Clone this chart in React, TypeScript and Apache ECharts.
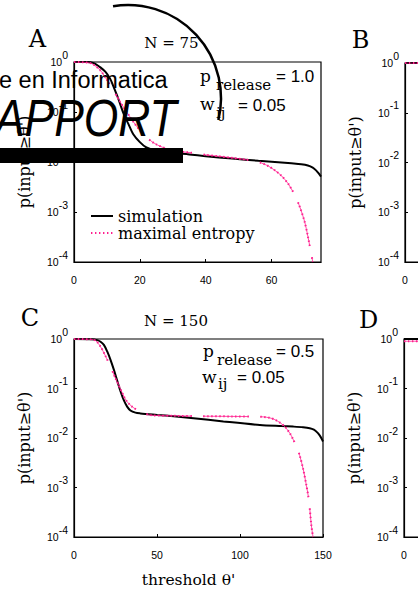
import React, { useEffect, useRef } from 'react';
import * as echarts from 'echarts';

// ---------- data ----------
const panelLetters = ['A', 'B', 'C', 'D'];
const panelTitles = ['N = 75', 'N = 150'];
const legendNames = ['simulation', 'maximal entropy'];
const yAxisTitle = "p(input\u2265\u03b8')";
const xAxisTitle = "threshold \u03b8'";

// panel A (N = 75): [threshold, p]
const simA: [number, number][] = [
  [0, 1], [4, 0.995], [6, 0.95], [7, 0.87], [8, 0.78], [9.5, 0.64], [11, 0.46], [12, 0.32],
  [13.5, 0.18], [15, 0.095], [16.5, 0.058], [18, 0.036], [20, 0.025], [22, 0.0195], [25, 0.0168],
  [30, 0.0152], [35, 0.0142], [40, 0.0131], [48, 0.0117], [56, 0.0106], [62, 0.0099], [66, 0.0094],
  [69, 0.009], [71, 0.0085], [72.5, 0.0077], [73.5, 0.0068], [74.3, 0.0059], [75, 0.0051],
];
const entA: [number, number][] = [
  [0, 1], [3, 0.99], [5, 0.95], [6, 0.88], [8, 0.68], [10, 0.44], [12, 0.27], [14, 0.16], [16, 0.1],
  [18, 0.064], [20, 0.043], [22, 0.031], [25, 0.0225], [29, 0.0176], [33, 0.016], [36, 0.0152],
  [40, 0.0139], [44, 0.013], [48, 0.0121], [52, 0.0112], [55, 0.0104], [57, 0.0095], [59, 0.0083],
  [61, 0.0068], [63, 0.0053], [65, 0.0037], [67, 0.0022], [68.5, 0.0013], [70, 0.00065],
  [71, 0.00033], [72, 0.00015], [72.5, 0.0001],
];
// panel C (N = 150)
const simC: [number, number][] = [
  [0, 1], [10, 0.99], [14, 0.95], [16, 0.88], [18, 0.76], [20, 0.56], [22, 0.38], [24, 0.24],
  [26, 0.145], [28, 0.088], [30, 0.058], [32, 0.043], [34, 0.036], [37, 0.0325], [40, 0.0314],
  [50, 0.0293], [60, 0.0274], [72, 0.0251], [90, 0.0216], [112, 0.0183], [125, 0.0174],
  [132, 0.017], [138, 0.0165], [142, 0.0158], [144.5, 0.0147], [146.5, 0.013], [148, 0.0113],
  [149.2, 0.0097], [150, 0.0085],
];
const entC: [number, number][] = [
  [0, 1], [10, 0.985], [13, 0.93], [16, 0.7], [19, 0.45], [22, 0.275], [25, 0.16], [27, 0.115],
  [30, 0.07], [32, 0.054], [35, 0.043], [38, 0.037], [42, 0.032], [46, 0.029], [60, 0.0281],
  [76, 0.0276], [95, 0.0273], [109, 0.027], [114, 0.0267], [118, 0.0255], [121, 0.0235],
  [124, 0.0205], [127, 0.017], [130, 0.0125], [132, 0.0094], [134, 0.0068], [136, 0.0044],
  [138, 0.0024], [140, 0.0011], [141.5, 0.00055], [143, 0.00017], [144, 0.0001],
];
// panels B and D (only the left edge is visible)
const simB: [number, number][] = [[0, 1], [10, 1], [20, 1]];
const entB: [number, number][] = [[0, 1], [10, 1], [20, 1]];
const simD: [number, number][] = [[0, 1], [20, 1], [40, 1]];
const entD: [number, number][] = [[0, 0.9], [20, 0.9], [40, 0.9]];

const xMaxTop = 75;
const xMaxBottom = 150;
const xIntervalTop = 20;
const xIntervalBottom = 50;

// ---------- style ----------
const PINK = '#ff1f8e';
const SERIF = '"DejaVu Serif", serif';
const SANS = '"Liberation Sans", Arial, sans-serif';

const dotPattern: number[] = [];
for (let i = 0; i < 11; i++) dotPattern.push(1.4, 2.6);
dotPattern.push(1.4, 11.6);

const grids = [
  { left: 74, top: 62, width: 247, height: 200 },
  { left: 405, top: 63, width: 247, height: 199 },
  { left: 74, top: 339, width: 249, height: 198 },
  { left: 404, top: 339, width: 249, height: 198 },
];

function xAxis(i: number) {
  const bottom = i >= 2;
  return {
    gridIndex: i,
    type: 'value',
    min: 0,
    max: bottom ? xMaxBottom : xMaxTop,
    interval: bottom ? xIntervalBottom : xIntervalTop,
    name: bottom ? xAxisTitle : '',
    nameLocation: 'middle',
    nameGap: 35,
    nameTextStyle: { fontFamily: SERIF, fontSize: 15.5, color: '#000', padding: [0, 20, 0, 0] },
    axisLine: { show: true, lineStyle: { color: '#000', width: 1.2 } },
    axisTick: { show: true, inside: true, length: 3, lineStyle: { color: '#000' } },
    splitLine: { show: false },
    axisLabel: {
      color: '#000', fontFamily: SANS, fontSize: 10.5, margin: 12,
      showMaxLabel: bottom,
    },
  };
}

function yAxis(i: number) {
  return {
    gridIndex: i,
    type: 'log',
    logBase: 10,
    min: 0.0001,
    max: 1,
    name: yAxisTitle,
    nameLocation: 'middle',
    nameGap: 42,
    nameTextStyle: { fontFamily: SERIF, fontSize: 16, color: '#000' },
    axisLine: { show: true, lineStyle: { color: '#000', width: 1.2 } },
    axisTick: { show: true, inside: true, length: 3, lineStyle: { color: '#000' } },
    splitLine: { show: false },
    minorTick: { show: false },
    axisLabel: {
      margin: 6,
      color: '#000',
      formatter: (v: number) => `{b|10}{e|${Math.round(Math.log10(v))}}`,
      rich: {
        b: { fontFamily: SANS, fontSize: 10.5, color: '#000', verticalAlign: 'middle' },
        e: { fontFamily: SANS, fontSize: 10.5, color: '#000', verticalAlign: 'middle', padding: [0, 0, 15, 0] },
      },
    },
  };
}

function simSeries(idx: number, data: [number, number][]) {
  return {
    type: 'line', name: 'simulation', xAxisIndex: idx, yAxisIndex: idx, data,
    smooth: 0.3, symbol: 'none', lineStyle: { color: '#000', width: 2 }, itemStyle: { color: '#000' },
  };
}
function entSeries(idx: number, data: [number, number][]) {
  return [
    {
      type: 'line', name: 'ent-line', xAxisIndex: idx, yAxisIndex: idx, data,
      smooth: 0.3, symbol: 'none', lineStyle: { color: PINK, width: 0.8, type: [45, 12] },
    },
    {
      type: 'line', name: 'maximal entropy', xAxisIndex: idx, yAxisIndex: idx, data,
      smooth: 0.3, symbol: 'none', lineStyle: { color: PINK, width: 2, type: dotPattern },
      itemStyle: { color: PINK },
    },
  ];
}

function txt(text: string, x: number, y: number, font: string, align = 'left') {
  return {
    type: 'text', x, y, z: 50,
    style: { text, font, fill: '#000', align, verticalAlign: 'middle' },
  };
}

export default function App() {
  const ref = useRef<HTMLDivElement>(null);
  useEffect(() => {
    if (!ref.current) return;
    const chart = echarts.init(ref.current, null, { renderer: 'svg' });
    const option: any = {
      animation: false,
      backgroundColor: '#fff',
      grid: grids.map((g) => ({
        ...g, show: true, borderColor: '#000', borderWidth: 1.2, backgroundColor: 'transparent',
        outerBoundsMode: 'none',
      })),
      xAxis: [0, 1, 2, 3].map(xAxis),
      yAxis: [0, 1, 2, 3].map(yAxis),
      legend: {
        data: legendNames,
        orient: 'vertical',
        left: 90,
        top: 208,
        itemWidth: 22,
        itemHeight: 14,
        itemGap: 1,
        padding: 0,
        selectedMode: false,
        itemStyle: { color: 'rgba(0,0,0,0)', borderColor: 'rgba(0,0,0,0)', borderWidth: 0 },
        textStyle: { fontFamily: SERIF, fontSize: 16, color: '#000', lineHeight: 14 },
      },
      series: [
        simSeries(0, simA), ...entSeries(0, entA),
        simSeries(1, simB), ...entSeries(1, entB),
        simSeries(2, simC), ...entSeries(2, entC),
        simSeries(3, simD), ...entSeries(3, entD),
      ],
      graphic: [
        // panel letters and titles
        txt(panelLetters[0], 37.5, 38.5, `24px ${SERIF}`, 'center'),
        txt(panelLetters[1], 360.5, 40, `24px ${SERIF}`, 'center'),
        txt(panelLetters[2], 30, 317.5, `24px ${SERIF}`, 'center'),
        txt(panelLetters[3], 368.5, 319.5, `24px ${SERIF}`, 'center'),
        txt(panelTitles[0], 171.5, 42.5, `15px ${SERIF}`, 'center'),
        txt(panelTitles[1], 176, 321, `15px ${SERIF}`, 'center'),
        // parameter annotations A
        txt('p', 200, 76, `17px ${SERIF}`),
        txt('release', 216, 84.8, `15px ${SERIF}`),
        txt('= 1.0', 276, 76, `17px ${SANS}`),
        txt('w', 200, 104, `17px ${SERIF}`),
        txt('ij', 216, 112.8, `15px ${SERIF}`),
        txt('= 0.05', 238, 105, `17px ${SANS}`),
        // parameter annotations C
        txt('p', 203, 351, `17px ${SERIF}`),
        txt('release', 217, 359.8, `15px ${SERIF}`),
        txt('= 0.5', 276, 351, `17px ${SANS}`),
        txt('w', 202, 377, `17px ${SERIF}`),
        txt('ij', 218, 383.8, `15px ${SERIF}`),
        txt('= 0.05', 237, 377, `17px ${SANS}`),
        // overlay (logo fragments)
        {
          type: 'text', x: -1, y: 79.5, z: 100,
          style: { text: 'e en Informatica', font: `23.5px ${SANS}`, fill: '#000', align: 'left', verticalAlign: 'middle' },
        },
        {
          type: 'text', x: -5, y: 118.5, scaleX: 0.87, z: 100,
          style: { text: 'APPORT', font: `italic 51px ${SANS}`, fill: '#000', align: 'left', verticalAlign: 'middle' },
        },
        { type: 'rect', z: 100, shape: { x: 0, y: 148, width: 183, height: 15 }, style: { fill: '#000' } },
        {
          type: 'arc', z: 100,
          shape: { cx: 128, cy: 98, r: 93, startAngle: -1.7325, endAngle: 0.2395, clockwise: true },
          style: { stroke: '#000', lineWidth: 2.5, fill: 'none' },
        },
      ],
    };
    chart.setOption(option);
    return () => chart.dispose();
  }, []);
  return (
    <div
      style={{
        position: 'absolute', left: 0, top: 0, width: 418, height: 591,
        overflow: 'hidden', background: '#fff',
      }}
    >
      <div ref={ref} style={{ position: 'absolute', left: 0, top: 0, width: 720, height: 591 }} />
    </div>
  );
}
